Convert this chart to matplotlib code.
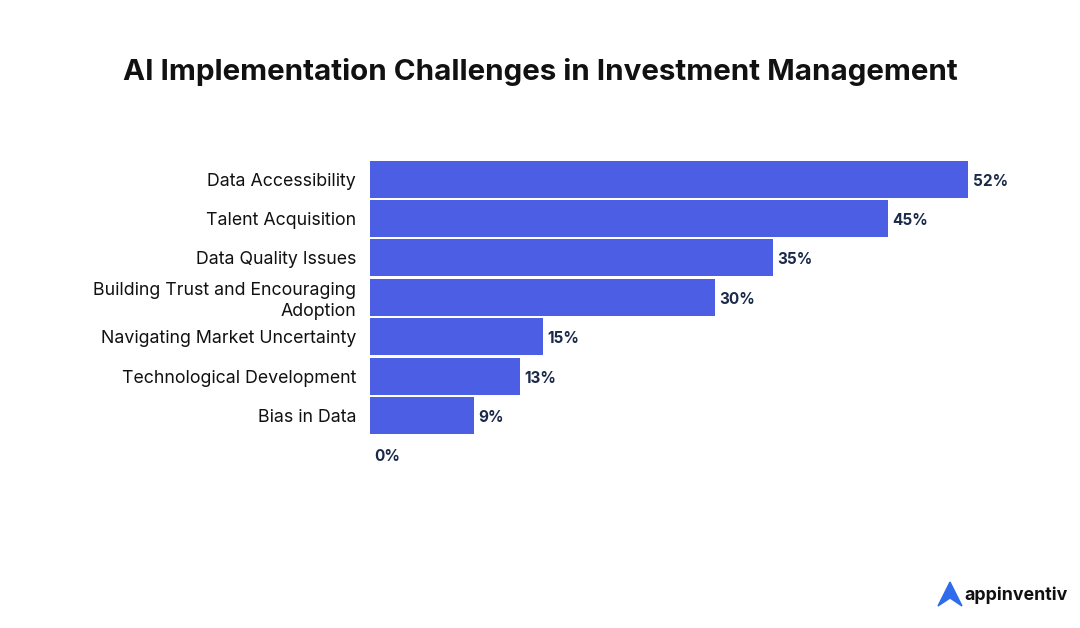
import matplotlib.pyplot as plt
from matplotlib.patches import Polygon

categories = ["Data Accessibility", "Talent Acquisition", "Data Quality Issues",
              "Building Trust and Encouraging\nAdoption", "Navigating Market Uncertainty",
              "Technological Development", "Bias in Data", ""]
values = [52, 45, 35, 30, 15, 13, 9, 0]
value_labels = [f"{v}%" for v in values]

W, H = 1080, 628
fig = plt.figure(figsize=(W / 100, H / 100), dpi=100)
fig.patch.set_facecolor("white")

top_px, bot_px = 159.4, 474.6
ax = fig.add_axes([370 / W, 1 - bot_px / H, 690 / W, (bot_px - top_px) / H])
ax.barh(range(len(values)), values, height=0.94, color="#4B5EE4")
ax.set_xlim(0, 60)
ax.set_ylim(len(values) - 0.5, -0.5)
for i, (v, t) in enumerate(zip(values, value_labels)):
    ax.text(v + 0.4, i + 0.05, t, va="center", ha="left", fontsize=11,
            fontweight="bold", color="#1B2A4A", family="Inter")
ax.set_yticks(range(len(values)))
ax.set_yticklabels(categories, fontsize=12.8, family="Inter", color="#111111",
                   linespacing=1.3)
ax.tick_params(axis="y", length=0, pad=10)
ax.set_xticks([])
for s in ax.spines.values():
    s.set_visible(False)

fig.text(0.5, 1 - 72 / H, "AI Implementation Challenges in Investment Management",
         ha="center", va="center", fontsize=21.3, fontweight="bold",
         family="Inter", color="#111111")

# logo
logo = Polygon([[938 / W, 1 - 606 / H], [950 / W, 1 - 582 / H], [962 / W, 1 - 606 / H],
                [950 / W, 1 - 598 / H]], closed=True, transform=fig.transFigure,
               color="#2F6BEA")
fig.patches.append(logo)
fig.text(964 / W, 1 - 595 / H, "appinventiv", ha="left", va="center",
         fontsize=12.8, fontweight="bold", family="Inter", color="#111111")

fig.savefig("out.png", dpi=100)
